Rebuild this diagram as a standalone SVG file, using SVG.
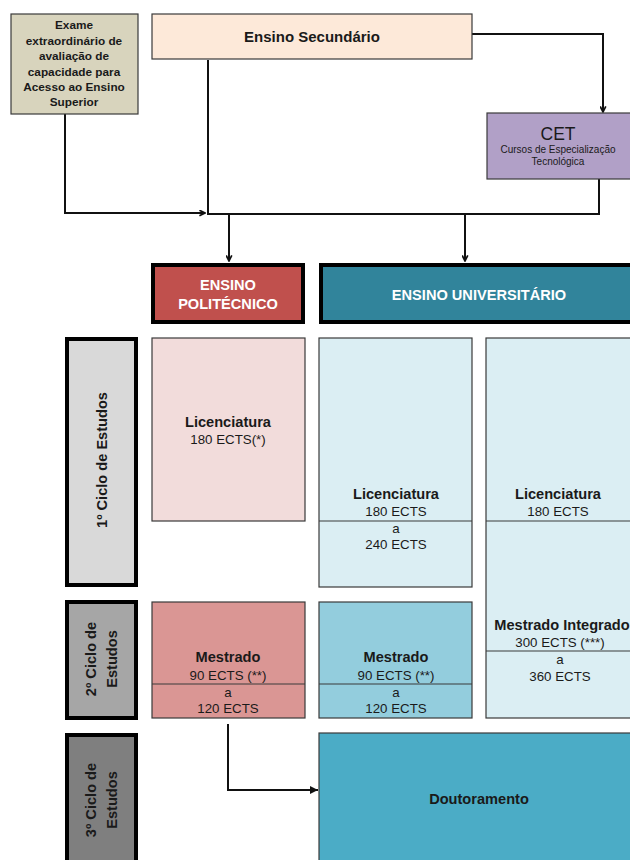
<svg xmlns="http://www.w3.org/2000/svg" width="630" height="860" viewBox="0 0 630 860">
<style>
text{font-family:"Liberation Sans",Arial,sans-serif;fill:#1a1a1a;text-anchor:middle}
.b{font-weight:bold}
.h{font-weight:bold;font-size:14.6px}
.r{font-size:13.3px}
.thin{stroke:#3a3a3a;stroke-width:1.2}
.thick{stroke:#000;stroke-width:4}
.conn{fill:none;stroke:#111;stroke-width:2}
.w{fill:#fff}
</style>
<defs>
<marker id="va" viewBox="0 0 10 10" refX="9" refY="5" markerWidth="7" markerHeight="7" orient="auto" markerUnits="userSpaceOnUse">
<path d="M1,1 L9,5 L1,9" fill="none" stroke="#111" stroke-width="2.4"/>
</marker>
<marker id="fa" viewBox="0 0 10 10" refX="10" refY="5" markerWidth="9" markerHeight="8" orient="auto" markerUnits="userSpaceOnUse">
<path d="M0,0 L10,5 L0,10 z" fill="#111"/>
</marker>
</defs>

<g id="connectors">
<path class="conn" d="M472,34 H603 V112" marker-end="url(#va)"/>
<path class="conn" d="M208,60 V214"/>
<path class="conn" d="M65,114 V213 H205" marker-end="url(#va)"/>
<path class="conn" d="M599,179 V214 H207"/>
<path class="conn" d="M229,214 V261" marker-end="url(#va)"/>
<path class="conn" d="M465,214 V261" marker-end="url(#va)"/>
<path class="conn" d="M228,724 V790 H318" marker-end="url(#fa)"/>
</g>

<g id="exame">
<rect x="11" y="14" width="127" height="100" fill="#d8d4bd" class="thin"/>
<text class="b" font-size="11.8" x="74" y="29">Exame</text>
<text class="b" font-size="11.8" x="74" y="45">extraordinário de</text>
<text class="b" font-size="11.8" x="74" y="60">avaliação de</text>
<text class="b" font-size="11.8" x="74" y="76">capacidade para</text>
<text class="b" font-size="11.8" x="74" y="91">Acesso ao Ensino</text>
<text class="b" font-size="11.8" x="74" y="106">Superior</text>
</g>

<g id="secundario">
<rect x="152" y="14" width="320" height="45" fill="#fde9d9" class="thin"/>
<text class="b" font-size="15" x="312" y="42">Ensino Secundário</text>
</g>

<g id="cet">
<rect x="487" y="113" width="145" height="66" fill="#b1a0c7" class="thin"/>
<text font-size="17.5" x="558" y="140">CET</text>
<text font-size="10" x="558" y="153">Cursos de Especialização</text>
<text font-size="10" x="558" y="165">Tecnológica</text>
</g>

<g id="politecnico">
<rect x="153" y="265" width="150" height="57" fill="#c0504d" class="thick"/>
<text class="h w" x="228" y="290">ENSINO</text>
<text class="h w" x="228" y="309">POLITÉCNICO</text>
</g>

<g id="universitario">
<rect x="321" y="265" width="320" height="57" fill="#31849b" class="thick"/>
<text class="h w" x="479" y="300">ENSINO UNIVERSITÁRIO</text>
</g>

<g id="ciclo1">
<rect x="67" y="339" width="69" height="246" fill="#d9d9d9" class="thick"/>
<text class="h" transform="translate(107,460) rotate(-90)">1º Ciclo de Estudos</text>
</g>

<g id="ciclo2">
<rect x="67" y="602" width="69" height="116" fill="#a6a6a6" class="thick"/>
<text class="h" transform="translate(96,659) rotate(-90)">2º Ciclo de</text>
<text class="h" transform="translate(117,659) rotate(-90)">Estudos</text>
</g>

<g id="ciclo3">
<rect x="67" y="735" width="69" height="140" fill="#7f7f7f" class="thick"/>
<text class="h" transform="translate(96,800) rotate(-90)">3º Ciclo de</text>
<text class="h" transform="translate(117,800) rotate(-90)">Estudos</text>
</g>

<g id="lic-poli">
<rect x="152" y="338" width="153" height="183" fill="#f2dcdb" class="thin"/>
<text class="h" x="228" y="427">Licenciatura</text>
<text class="r" x="228" y="444">180 ECTS(*)</text>
</g>

<g id="lic-univ">
<rect x="319" y="338" width="153" height="249" fill="#dbeef3" class="thin"/>
<line x1="319" y1="521" x2="472" y2="521" class="thin"/>
<text class="h" x="396" y="499">Licenciatura</text>
<text class="r" x="396" y="516">180 ECTS</text>
<text class="r" x="396" y="533">a</text>
<text class="r" x="396" y="549">240 ECTS</text>
</g>

<g id="mi-univ">
<rect x="486" y="338" width="160" height="380" fill="#dbeef3" class="thin"/>
<line x1="486" y1="521" x2="640" y2="521" class="thin"/>
<line x1="486" y1="651" x2="640" y2="651" class="thin"/>
<text class="h" x="558" y="499">Licenciatura</text>
<text class="r" font-size="14" x="558" y="516">180 ECTS</text>
<text class="h" x="562" y="630">Mestrado Integrado</text>
<text class="r" x="560" y="647">300 ECTS (***)</text>
<text class="r" x="560" y="664">a</text>
<text class="r" x="560" y="681">360 ECTS</text>
</g>

<g id="mest-poli">
<rect x="152" y="602" width="153" height="116" fill="#da9694" class="thin"/>
<line x1="152" y1="684" x2="305" y2="684" class="thin"/>
<text class="h" x="228" y="662">Mestrado</text>
<text class="r" x="228" y="680">90 ECTS (**)</text>
<text class="r" x="228" y="697">a</text>
<text class="r" x="228" y="713">120 ECTS</text>
</g>

<g id="mest-univ">
<rect x="319" y="602" width="153" height="116" fill="#93cddd" class="thin"/>
<line x1="319" y1="684" x2="472" y2="684" class="thin"/>
<text class="h" x="396" y="662">Mestrado</text>
<text class="r" x="396" y="680">90 ECTS (**)</text>
<text class="r" x="396" y="697">a</text>
<text class="r" x="396" y="713">120 ECTS</text>
</g>

<g id="doutoramento">
<rect x="319" y="733" width="330" height="140" fill="#4bacc6" class="thin"/>
<text class="h" x="479" y="804">Doutoramento</text>
</g>
</svg>
